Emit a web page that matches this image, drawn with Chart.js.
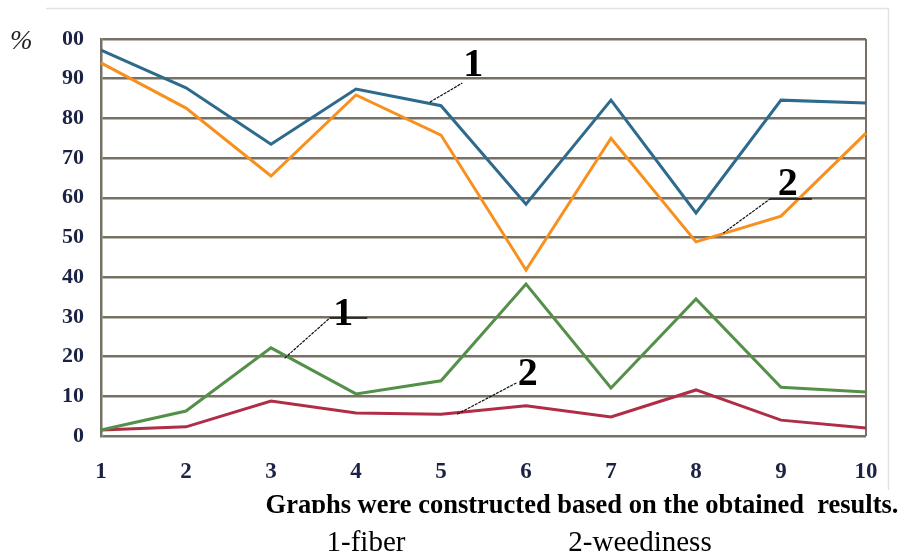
<!DOCTYPE html>
<html>
<head>
<meta charset="utf-8">
<script src="https://cdn.jsdelivr.net/npm/chart.js@4"></script>
<style>
  html, body { margin: 0; padding: 0; background: #fff; overflow: hidden; }
  #wrap { width: 902px; height: 554px; position: relative; }
</style>
</head>
<body>
<div id="wrap"><canvas id="lineChart" width="902" height="554"></canvas></div>
<script>
// x-axis categories
var categories = ['1', '2', '3', '4', '5', '6', '7', '8', '9', '10'];
// y ticks
var yTicks = [0, 10, 20, 30, 40, 50, 60, 70, 80, 90, 100];

// series
var fiberA = [97.2, 87.7, 73.5, 87.4, 83.2, 58.4, 84.6, 56.2, 84.6, 83.9];      // blue
var weedA = [94.0, 82.6, 65.5, 85.9, 75.8, 41.8, 75.0, 48.9, 55.4, 76.3];       // orange
var fiberB = [1.5, 6.3, 22.2, 10.6, 13.9, 38.3, 12.1, 34.5, 12.3, 11.1];       // green
var weedB = [1.5, 2.3, 8.8, 5.8, 5.5, 7.6, 4.8, 11.6, 4.0, 2.0];                // red

// number labels with leader lines, in data units
var callouts = [
    { text: '1', x: 5.38, y: 93.4, from: [4.87, 84.1], to: [5.25, 88.9], under: false },
    { text: '2', x: 9.08, y: 63.2, from: [8.32, 51.1], to: [8.87, 59.7], under: true },
    { text: '1', x: 3.85, y: 30.5, from: [3.16, 19.6], to: [3.69, 29.7], under: true },
    { text: '2', x: 6.02, y: 15.4, from: [5.19, 5.5], to: [5.89, 13.4], under: false }
];

var gridColor = '#777165';
var tickColor = '#1c2244';

//plugin: outer frame, captions, callouts
var extrasPlugin = {
    id: 'extras',
    beforeDraw: function (chart) {
        var c = chart.ctx;
        c.save();
        c.strokeStyle = '#e2e2e2';
        c.lineWidth = 1.5;
        c.beginPath();
        c.moveTo(46, 8.5);
        c.lineTo(888.5, 8.5);
        c.lineTo(888.5, 490);
        c.stroke();
        c.restore();
    },
    afterDraw: function (chart) {
        var c = chart.ctx;
        var xs = chart.scales.x, ys = chart.scales.y;
        function px(v) { return xs.left + (v - 1) * (xs.right - xs.left) / (categories.length - 1); }
        c.save();
        // top tick label is cut off in the source
        c.fillStyle = '#fff';
        c.fillRect(40, 26, 23, 26);
        // % sign
        c.fillStyle = '#222';
        c.font = 'italic 27px "Liberation Serif"';
        c.textAlign = 'left';
        c.textBaseline = 'middle';
        c.fillText('%', 10, 42);

        // callouts
        callouts.forEach(function (o) {
            var x1 = px(o.from[0]), y1 = ys.getPixelForValue(o.from[1]);
            var x2 = px(o.to[0]), y2 = ys.getPixelForValue(o.to[1]);
            c.strokeStyle = '#111';
            c.lineWidth = 1.2;
            c.setLineDash([3, 1]);
            c.beginPath();
            c.moveTo(x1, y1);
            c.lineTo(x2, y2);
            c.stroke();
            c.setLineDash([]);
            var tx = px(o.x), ty = ys.getPixelForValue(o.y);
            c.fillStyle = '#000';
            c.font = 'bold 40px "Liberation Serif"';
            c.textAlign = 'center';
            c.textBaseline = 'middle';
            c.fillText(o.text, tx, ty);
            if (o.under) {
                c.lineWidth = 1.5;
                c.beginPath();
                c.moveTo(x2, y2);
                c.lineTo(tx + 24, y2);
                c.stroke();
            }
        });

        // captions
        c.fillStyle = '#000';
        c.textAlign = 'center';
        c.textBaseline = 'alphabetic';
        c.font = 'bold 26.5px "Liberation Serif"';
        c.fillText('Graphs were constructed based on the obtained  results.', 582, 513);
        // cut off lower part like the source
        c.fillStyle = '#fff';
        c.fillRect(250, 513, 660, 14);
        c.fillStyle = '#000';
        c.font = '29px "Liberation Serif"';
        c.fillText('1-fiber', 366, 551);
        c.fillText('2-weediness', 640, 551);
        c.restore();
    }
};

var ctx = document.getElementById('lineChart').getContext('2d');
var myLineChart = new Chart(ctx, {
    type: 'line',
    data: {
        labels: categories,
        datasets: [
            { label: 'fiber 1', data: fiberA, borderColor: '#2d6a8b' },
            { label: 'weediness 1', data: weedA, borderColor: '#f7901e' },
            { label: 'fiber 2', data: fiberB, borderColor: '#55904a' },
            { label: 'weediness 2', data: weedB, borderColor: '#b02d47' }
        ]
    },
    options: {
        responsive: false,
        animation: false,
        devicePixelRatio: 1,
        layout: { padding: { top: 39, right: 36, left: 0, bottom: 0 } },
        elements: {
            line: { borderWidth: 3, tension: 0, fill: false },
            point: { radius: 0 }
        },
        scales: {
            x: {
                offset: false,
                afterFit: function (s) { s.height = 118; },
                grid: {
                    drawTicks: false,
                    lineWidth: 2,
                    color: function (c) {
                        return (c.index === 0 || c.index === categories.length - 1) ? gridColor : 'rgba(0,0,0,0)';
                    }
                },
                border: { display: false },
                ticks: {
                    padding: 22,
                    autoSkip: false,
                    color: tickColor,
                    font: { family: 'Liberation Serif', size: 23, weight: 'bold' },
                    maxRotation: 0
                }
            },
            y: {
                min: 0,
                max: 100,
                afterFit: function (s) { s.width = 101; },
                afterBuildTicks: function (s) {
                    s.ticks = yTicks.map(function (v) { return { value: v }; });
                },
                grid: { drawTicks: false, lineWidth: 2.5, color: gridColor },
                border: { display: true, color: gridColor, width: 2.5 },
                ticks: {
                    padding: 17,
                    color: tickColor,
                    font: { family: 'Liberation Serif', size: 22, weight: 'bold' }
                }
            }
        },
        plugins: {
            legend: { display: false },
            tooltip: { enabled: false }
        }
    },
    plugins: [extrasPlugin]
});
</script>
</body>
</html>
